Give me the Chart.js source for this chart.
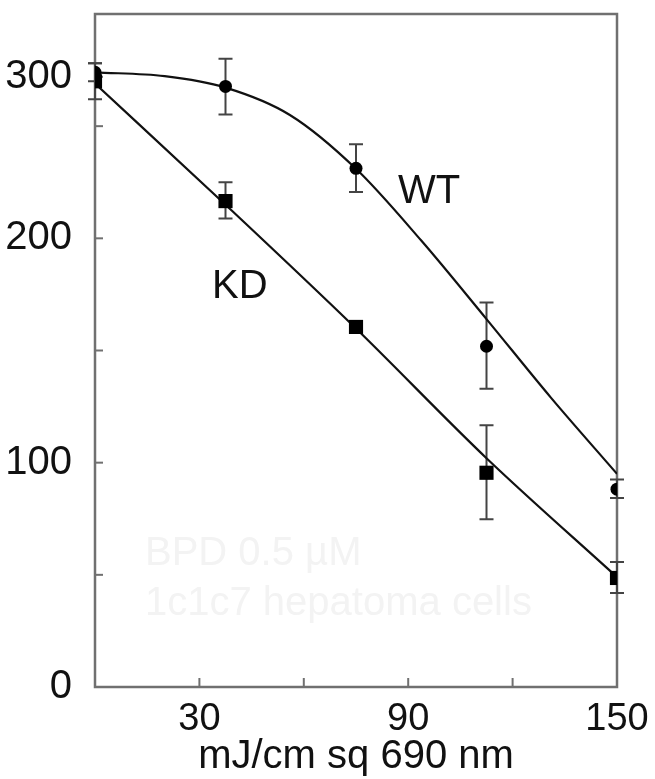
<!DOCTYPE html>
<html>
<head>
<meta charset="utf-8">
<script src="https://cdn.jsdelivr.net/npm/chart.js@4"></script>
<style>
    html, body { margin: 0; padding: 0; background: #fff; }
    #wrap { width: 655px; height: 779px; }
</style>
</head>
<body>
<div id="wrap"><canvas id="doseChart"></canvas></div>
<script>
// measured points (dose in mJ/cm sq)
var doses = [0, 37.5, 75, 112.5, 150];
var wtValues = [274, 267.7, 231.2, 151.9, 88.2];
var wtLow = [270, 255.2, 220.6, 133, 84.2];
var wtHigh = [278, 280, 241.9, 171.4, 92.5];
var kdValues = [270, 216.6, 160.5, 95.5, 48.6];
var kdLow = [262, 208.8, 160.5, 74.8, 41.9];
var kdHigh = [278, 225, 160.5, 116.7, 55.7];

// fitted curves
var wtCurveX = [0, 20, 37.5, 56, 75, 93.75, 112.5, 131, 150];
var wtCurveY = [274, 272.3, 267.2, 255, 231, 199, 164, 129, 95];
var kdCurveX = [0, 37.5, 75, 112.5, 150];
var kdCurveY = [269, 215, 159.8, 102, 49];

// axis ticks
var xTickValues = [30, 60, 90, 120, 150];
var xTickLabels = ['30', '', '90', '', '150'];
var yTickValues = [0, 50, 100, 150, 200, 250, 272];
var yTickLabels = ['0', '', '100', '', '200', '', '300'];

var FONT = "'Liberation Sans', Arial, sans-serif";
var FRAME = '#707070';

function toPoints(xs, ys) {
    return xs.map(function (x, i) { return { x: x, y: ys[i] }; });
}

var extrasPlugin = {
    id: 'extras',
    beforeDatasetsDraw: function (chart) {
        var ctx = chart.ctx;
        var xs = chart.scales.x;
        var ys = chart.scales.y;
        var area = chart.chartArea;

        ctx.save();
        // faint watermark text
        ctx.fillStyle = '#f3f3f3';
        ctx.font = '40px ' + FONT;
        ctx.textBaseline = 'alphabetic';
        ctx.fillText('BPD 0.5 \u00b5M', 145, 565);
        ctx.fillText('1c1c7 hepatoma cells', 145, 615);

        // frame
        ctx.strokeStyle = FRAME;
        ctx.lineWidth = 2.5;
        ctx.strokeRect(area.left, area.top, area.right - area.left, area.bottom - area.top);

        // inward tick marks
        ctx.lineWidth = 2;
        xTickValues.forEach(function (v) {
            var px = xs.getPixelForValue(v);
            ctx.beginPath();
            ctx.moveTo(px, area.bottom);
            ctx.lineTo(px, area.bottom - 9);
            ctx.stroke();
        });
        yTickValues.forEach(function (v) {
            var py = ys.getPixelForValue(v);
            ctx.beginPath();
            ctx.moveTo(area.left, py);
            ctx.lineTo(area.left + 8, py);
            ctx.stroke();
        });

        // error bars
        ctx.strokeStyle = '#444';
        ctx.lineWidth = 2;
        function bar(x, lo, hi) {
            if (hi - lo < 0.5) {
                return;
            }
            var px = xs.getPixelForValue(x);
            var p1 = ys.getPixelForValue(lo);
            var p2 = ys.getPixelForValue(hi);
            ctx.beginPath();
            ctx.moveTo(px, p1);
            ctx.lineTo(px, p2);
            ctx.moveTo(px - 7, p1);
            ctx.lineTo(px + 7, p1);
            ctx.moveTo(px - 7, p2);
            ctx.lineTo(px + 7, p2);
            ctx.stroke();
        }
        doses.forEach(function (d, i) {
            bar(d, wtLow[i], wtHigh[i]);
            bar(d, kdLow[i], kdHigh[i]);
        });

        // series labels
        ctx.fillStyle = '#111';
        ctx.font = '40px ' + FONT;
        ctx.fillText('WT', 398, 203);
        ctx.fillText('KD', 212, 298);
        ctx.restore();
    }
};

new Chart(document.getElementById('doseChart').getContext('2d'), {
    type: 'scatter',
    data: {
        datasets: [
            {
                label: 'WT fit',
                data: toPoints(wtCurveX, wtCurveY),
                showLine: true,
                borderColor: '#111',
                borderWidth: 2.2,
                pointRadius: 0,
                cubicInterpolationMode: 'monotone',
                order: 2
            },
            {
                label: 'KD fit',
                data: toPoints(kdCurveX, kdCurveY),
                showLine: true,
                borderColor: '#111',
                borderWidth: 2.2,
                pointRadius: 0,
                cubicInterpolationMode: 'monotone',
                order: 2
            },
            {
                label: 'WT',
                data: toPoints(doses, wtValues),
                pointStyle: 'circle',
                pointRadius: 6.5,
                backgroundColor: '#000',
                borderWidth: 0,
                order: 1
            },
            {
                label: 'KD',
                data: toPoints(doses, kdValues),
                pointStyle: 'rect',
                pointRadius: 10,
                backgroundColor: '#000',
                borderWidth: 0,
                order: 0
            }
        ]
    },
    options: {
        responsive: true,
        maintainAspectRatio: false,
        animation: false,
        layout: { padding: { top: 14, right: 38, left: 0, bottom: 0 } },
        plugins: {
            legend: { display: false },
            tooltip: { enabled: false }
        },
        scales: {
            x: {
                type: 'linear',
                min: 0,
                max: 150,
                afterBuildTicks: function (scale) {
                    scale.ticks = xTickValues.map(function (v) { return { value: v }; });
                },
                afterFit: function (scale) {
                    scale.height = 92;
                    scale.paddingLeft = 0;
                    scale.paddingRight = 0;
                },
                grid: { display: false },
                border: { display: false },
                ticks: {
                    padding: 2,
                    color: '#111',
                    font: { family: FONT, size: 38 },
                    maxRotation: 0,
                    callback: function (value) {
                        var i = xTickValues.indexOf(value);
                        return i >= 0 ? xTickLabels[i] : '';
                    }
                },
                title: {
                    display: true,
                    text: 'mJ/cm sq 690 nm',
                    color: '#111',
                    font: { family: FONT, size: 40, lineHeight: 1.1 },
                    padding: { top: 0, bottom: 0 }
                }
            },
            y: {
                type: 'linear',
                min: 0,
                max: 300,
                afterBuildTicks: function (scale) {
                    scale.ticks = yTickValues.map(function (v) { return { value: v }; });
                },
                afterFit: function (scale) {
                    scale.width = 95;
                    scale.paddingTop = 0;
                    scale.paddingBottom = 0;
                },
                grid: { display: false },
                border: { display: false },
                ticks: {
                    padding: 15,
                    color: '#111',
                    font: { family: FONT, size: 40 },
                    callback: function (value) {
                        var i = yTickValues.indexOf(value);
                        return i >= 0 ? yTickLabels[i] : '';
                    }
                }
            }
        }
    },
    plugins: [extrasPlugin]
});
</script>
</body>
</html>
